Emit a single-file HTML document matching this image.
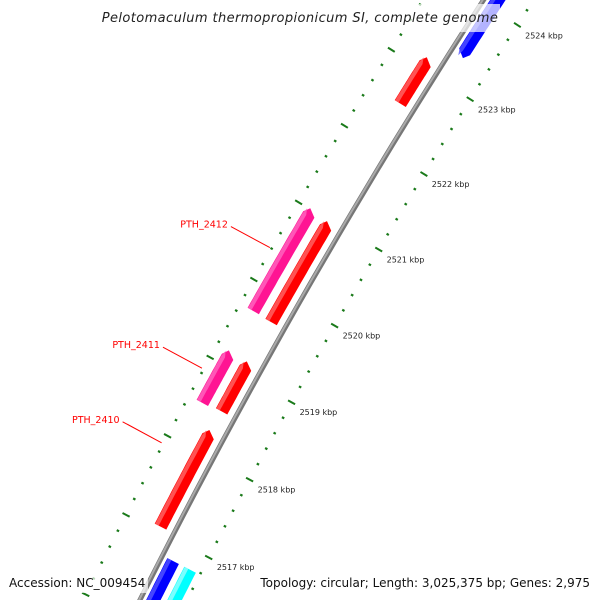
<!DOCTYPE html>
<html><head><meta charset="utf-8"><style>
html,body{margin:0;padding:0;background:#fff;width:600px;height:600px;overflow:hidden}
svg{display:block}
text{font-family:"DejaVu Sans","Liberation Sans",sans-serif}
</style></head><body>
<svg id="map" width="600" height="600" viewBox="0 0 600 600" xmlns="http://www.w3.org/2000/svg">
<g id="ticks"></g>
<g id="backbone"></g>
<g id="features"></g>
<g id="labels"></g>
<rect x="100" y="4" width="400" height="28" fill="#fff" opacity="0.7"/>
<rect x="5" y="573" width="143" height="20" fill="#fff" opacity="0.7"/>
<rect x="258" y="573" width="336" height="20" fill="#fff" opacity="0.7"/>
<text x="300" y="22" text-anchor="middle" font-size="13" font-style="italic" fill="#222" letter-spacing="0.4">Pelotomaculum thermopropionicum SI, complete genome</text>
<text x="9" y="587" font-size="12" fill="#111">Accession: NC_009454</text>
<text x="590" y="587" text-anchor="end" font-size="12" fill="#111">Topology: circular; Length: 3,025,375 bp; Genes: 2,975</text>
</svg>
<script>
// data
const tickKbp = [2517, 2518, 2519, 2520, 2521, 2522, 2523, 2524];
const tickLabels = ["2517 kbp","2518 kbp","2519 kbp","2520 kbp","2521 kbp","2522 kbp","2523 kbp","2524 kbp"];
const featStart = [2517.06, 2518.53, 2519.68, 2522.54, 2518.51, 2519.69, 2523.35, 2515.6, 2515.6];
const featEnd   = [2518.28, 2519.16, 2520.98, 2523.14, 2519.17, 2521.01, 2524.4, 2516.78, 2516.78];
const featStrand = [1, 1, 1, 1, 1, 1, -1, -1, -1];
const featKind = ["cds","cds","cds","cds","gene","gene","cds","cds","rna"];
const geneNames = ["PTH_2410","PTH_2411","PTH_2412"];
const geneLabelKbp = [2517.9, 2518.85, 2520.4];

// geometry (axis)
const CX = 5807, CY = 3447, K0 = 2517.5, A0 = 207.7, RATE = 0.8;
function pt(k, r){ const a = (A0 + RATE*(k-K0))*Math.PI/180; return [CX + r*Math.cos(a), CY + r*Math.sin(a)]; }
const NS = "http://www.w3.org/2000/svg";
function mk(tag, attrs, parent){ const e = document.createElementNS(NS, tag); for (const k in attrs) e.setAttribute(k, attrs[k]); parent.appendChild(e); return e; }
const R_RTICK = 6300, R_LTICK = 6393, R_BB = 6342;
const ringR = {cds: {"1": 6357, "-1": 6330}, gene: {"1": 6378}, rna: {"-1": 6311}};
const colors = {cds: {"1": "#ff0000", "-1": "#0000ff"}, gene: {"1": "#ff1493"}, rna: {"-1": "#00ffff"}};
const light = {"#ff0000": "#ff6666", "#0000ff": "#5555ff", "#ff1493": "#ff66c0", "#00ffff": "#99ffff"};

// ticks
const tg = document.getElementById('ticks');
for (let k = 2515; k <= 2526; k++) {
  for (let m = 0; m < 5; m++) {
    const kk = k + m*0.2;
    [R_RTICK, R_LTICK].forEach(function(R){
      const len = m === 0 ? 4 : 1.3;
      const p1 = pt(kk, R-len), p2 = pt(kk, R+len);
      const l = mk('line', {x1:p1[0], y1:p1[1], x2:p2[0], y2:p2[1], stroke:'#1a7a1a', 'stroke-width': m===0 ? 2 : 2.2}, tg);
      
      
    });
  }
}
tickKbp.forEach(function(k, i){
  const p = pt(k, R_RTICK - 8);
  const t = mk('text', {x:p[0]+1, y:p[1]+9, 'font-size':8, fill:'#222'}, tg);
  t.textContent = tickLabels[i];
  
  
});

// backbone
const bg = document.getElementById('backbone');
function arcPath(k1, k2, r){ let d = ""; for (let i = 0; i <= 40; i++){ const p = pt(k1 + (k2-k1)*i/40, r); d += (i ? "L" : "M") + p[0].toFixed(1) + "," + p[1].toFixed(1); } return d; }
const b1 = mk('path', {d: arcPath(2514, 2526, R_BB), stroke:'#777', 'stroke-width':5, fill:'none'}, bg);


const b2 = mk('path', {d: arcPath(2514, 2526, R_BB+0.8), stroke:'#aaa', 'stroke-width':2, fill:'none'}, bg);



// features
const fg = document.getElementById('features');
function featPoly(k1, k2, rc, w, strand){
  const ah = 0.07, pts = [];
  const r0 = rc - w/2, r1 = rc + w/2;
  let a = k1, b = k2;
  if (strand === 1) b = k2 - ah; else a = k1 + ah;
  for (let i = 0; i <= 20; i++) pts.push(pt(a + (b-a)*i/20, r0));
  if (strand === 1) pts.push(pt(k2, rc + w*0.15));
  for (let i = 20; i >= 0; i--) pts.push(pt(a + (b-a)*i/20, r1));
  if (strand === -1) pts.push(pt(k1, rc - w*0.15));
  return pts.map(p => p[0].toFixed(1) + "," + p[1].toFixed(1)).join(" ");
}
featStart.forEach(function(s, i){
  const st = String(featStrand[i]), kind = featKind[i];
  const rc = ringR[kind][st], col = colors[kind][st];
  const g = mk('g', {}, fg);
  
  
  const p = mk('polygon', {points: featPoly(s, featEnd[i], rc, 13, featStrand[i]), fill: col}, g);
  
  
  const h = mk('polygon', {points: featPoly(s, featEnd[i] - (featStrand[i]===1?0.02:0), rc + 4, 4, featStrand[i]), fill: light[col], opacity: 0.8}, g);
  
  
});

// gene labels
const lg = document.getElementById('labels');
geneNames.forEach(function(n, i){
  const p = pt(geneLabelKbp[i], 6395);
  const q = [p[0] - 39, p[1] - 21];
  const l = mk('line', {x1:p[0], y1:p[1], x2:q[0], y2:q[1], stroke:'#ff0000', 'stroke-width':1}, lg);
  
  
  const t = mk('text', {x:q[0]-3, y:q[1]+1, 'text-anchor':'end', 'font-size':9.5, fill:'#ff0000'}, lg);
  t.textContent = n;
  
  
});
</script>
</body></html>
